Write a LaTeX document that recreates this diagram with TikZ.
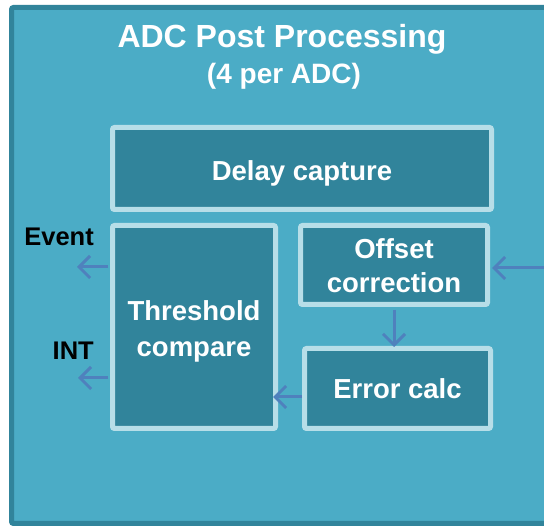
\documentclass[tikz,border=0pt]{standalone}
\usepackage{fontspec}
\setmainfont{Liberation Sans}
\usetikzlibrary{arrows.meta}
\definecolor{panelfill}{HTML}{4BACC6}
\definecolor{paneledge}{HTML}{31849B}
\definecolor{blockfill}{HTML}{31849B}
\definecolor{blockedge}{HTML}{B7DEE8}
\definecolor{flow}{HTML}{4F81BD}
\tikzset{
  block/.style={draw=blockedge, fill=blockfill, line width=5pt, rounded corners=2pt,
    inner sep=0pt},
  boxtext/.style={inner sep=0pt, align=center, text=white,
    font=\bfseries\fontsize{27.5}{36}\selectfont},
  flowarrow/.style={draw=flow, line width=3pt,
    -{Straight Barb[length=11pt,width=22pt,line width=3pt]}},
  sidelabel/.style={anchor=base east, inner sep=0pt, text=black,
    font=\bfseries\fontsize{25.5}{30}\selectfont},
  titletext/.style={anchor=base, inner sep=0pt, text=white}
}
\begin{document}
\begin{tikzpicture}[x=1pt, y=-1pt]
  \useasboundingbox (0,0) rectangle (544,526);
  \clip (0,0) rectangle (544,526);
  \fill[white] (0,0) rectangle (544,526);

  % outer panel
  \draw[draw=paneledge, fill=panelfill, line width=5pt, rounded corners=2pt]
    (11.5,7.5) rectangle (570,523.5);

  % title
  \node[titletext, font=\bfseries\fontsize{32}{38}\selectfont] (title) at (282,48) {ADC Post Processing};
  \node[titletext, font=\bfseries\fontsize{28}{34}\selectfont] (subtitle) at (284,84) {(4 per ADC)};

  % processing blocks
  \node[block, minimum width=379pt, minimum height=82pt,
    label={[boxtext, name=delaytext, yshift=-5pt]center:Delay capture}] (delay) at (302,168.5) {};
  \node[block, minimum width=163pt, minimum height=203pt,
    label={[boxtext, name=thrtext, yshift=-4pt]center:Threshold\\compare}] (thr) at (194,327) {};
  \node[block, minimum width=187pt, minimum height=79pt,
    label={[boxtext, name=offtext, yshift=-1pt, font=\bfseries\fontsize{27.5}{34}\selectfont]center:Offset\\correction}] (off) at (394,265) {};
  \node[block, minimum width=186pt, minimum height=80pt,
    label={[boxtext, name=errtext]center:Error calc}] (err) at (397.5,388.5) {};

  % outputs
  \node[sidelabel] (evlabel) at (94,246) {Event};
  \node[sidelabel] (intlabel) at (94,360) {INT};
  \coordinate (evout) at (77,267);
  \coordinate (intout) at (78,378);
  \coordinate (errrow) at (0,397);
  \coordinate (input) at (546,268);

  % connectors
  \draw[flowarrow] ([xshift=-2pt]thr.west |- evout) -- (evout);
  \draw[flowarrow] ([xshift=-2pt]thr.west |- intout) -- (intout);
  \draw[flowarrow] (err.west |- errrow) -- ([xshift=-5pt]thr.east |- errrow);
  \draw[flowarrow] (input) -- ([xshift=2pt]off.east |- input);
  \draw[flowarrow] ([yshift=-3pt]off.south) -- ([yshift=-1pt]off.south |- err.north);
\end{tikzpicture}
\end{document}
